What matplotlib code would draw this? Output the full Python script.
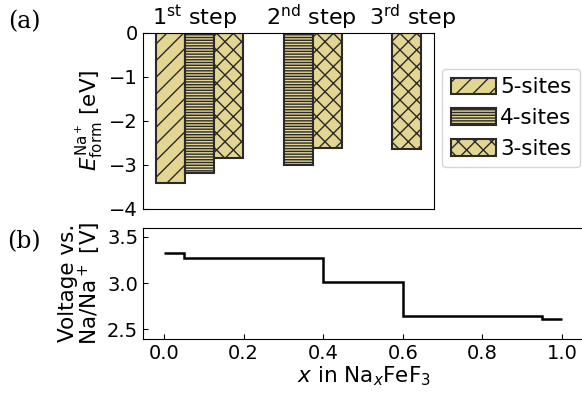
import matplotlib
matplotlib.use("Agg")
import matplotlib.pyplot as plt

# formation energies [eV]
sites = ["5-sites", "4-sites", "3-sites"]
hatches = ["//", "------", "xx"]
bar_x = [[0.0], [0.25, 1.105], [0.495, 1.355, 2.03]]
bar_E = [[-3.43], [-3.20, -3.00], [-2.85, -2.63, -2.65]]
step_labels = ["1$^{\\mathrm{st}}$ step", "2$^{\\mathrm{nd}}$ step", "3$^{\\mathrm{rd}}$ step"]

# voltage profile
x_edges = [0.0, 0.05, 0.4, 0.6, 0.95, 1.0]
volt = [3.33, 3.27, 3.01, 2.65, 2.61]

W, H = 582, 401
plt.rcParams["font.size"] = 14
plt.rcParams["hatch.linewidth"] = 1.0
plt.rcParams["xtick.direction"] = "in"
plt.rcParams["ytick.direction"] = "in"

fig = plt.figure(figsize=(W / 100, H / 100), dpi=100)

ax1 = fig.add_axes([143 / W, 1 - 208.5 / H, 291 / W, 175.5 / H])
face = "#e3d592"
for xs, es, lab, h in zip(bar_x, bar_E, sites, hatches):
    ax1.bar(xs, es, width=0.25, color=face, edgecolor="#2a2a2a", linewidth=1.5,
            hatch=h, label=lab)
ax1.set_ylim(-4, 0)
ax1.set_yticks([0, -1, -2, -3, -4])
ax1.set_xticks([])
ax1.set_ylabel("$E^{\\mathrm{Na}^+}_{\\mathrm{form}}$ [eV]", fontsize=15.5, labelpad=3)
ax1.legend(loc="center left", bbox_to_anchor=(442 / W, 1 - 118 / H),
           bbox_transform=fig.transFigure, borderaxespad=0, fontsize=15.5,
           handlelength=2.1, handleheight=0.8, handletextpad=0.2,
           labelspacing=0.5)

for lab, cx in zip(step_labels, [195, 311, 413]):
    fig.text(cx / W, 1 - 25 / H, lab, ha="center", va="baseline", fontsize=16)

ax2 = fig.add_axes([143 / W, 1 - 338.7 / H, 441 / W, 111 / H])
ax2.stairs(volt, x_edges, color="black", linewidth=1.8, baseline=None)
ax2.set_xlim(-0.0525, 1.055)
ax2.set_ylim(2.4, 3.6)
ax2.set_yticks([2.5, 3.0, 3.5])
ax2.set_xticks([0.0, 0.2, 0.4, 0.6, 0.8, 1.0])
ax2.set_xlabel("$x$ in Na$_x$FeF$_3$", fontsize=15.5, labelpad=1)
ax2.set_ylabel("Voltage vs.\nNa/Na$^+$ [V]", fontsize=15.5, linespacing=0.95, labelpad=3)

fig.text(8 / W, 1 - 28 / H, "(a)", family="DejaVu Serif", fontsize=17)
fig.text(7 / W, 1 - 248 / H, "(b)", family="DejaVu Serif", fontsize=17)

fig.savefig("out.png", dpi=100)
